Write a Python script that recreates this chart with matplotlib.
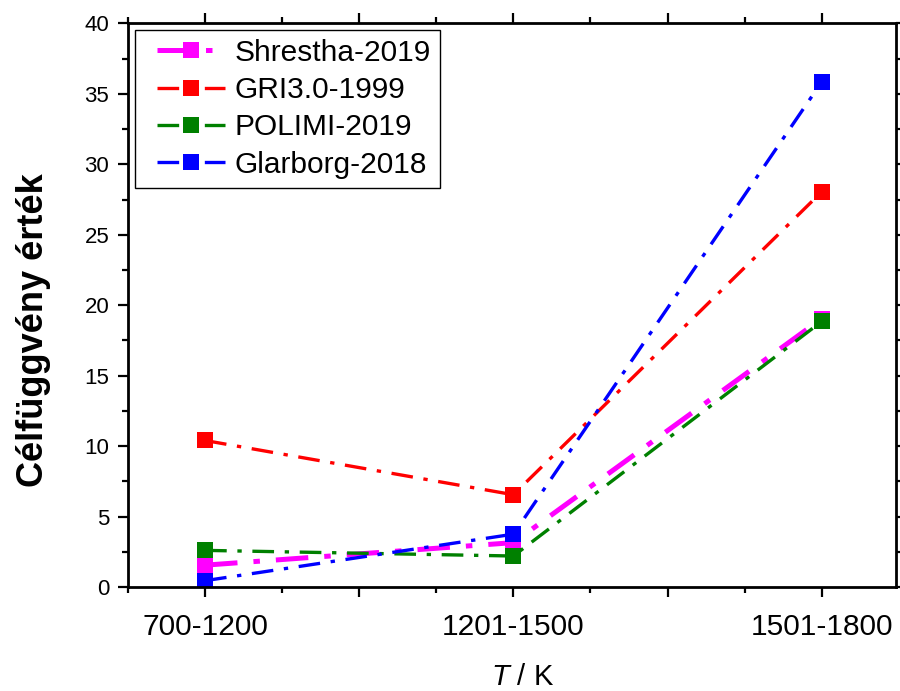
import matplotlib
matplotlib.use("Agg")
import matplotlib.pyplot as plt
from matplotlib.ticker import MultipleLocator, FuncFormatter
from matplotlib.legend_handler import HandlerLine2D

# Temperature ranges on the x axis
categories = ["700-1200", "1201-1500", "1501-1800"]

# Objective function values per mechanism
series_names = ["Shrestha-2019", "GRI3.0-1999", "POLIMI-2019", "Glarborg-2018"]
shrestha = [1.55, 3.15, 19.05]
gri = [10.4, 6.55, 28.05]
polimi = [2.6, 2.2, 18.85]
glarborg = [0.45, 3.75, 35.85]

colors = ["#FF00FF", "#FF0000", "#008000", "#0000FF"]
widths = [3.6, 2.4, 2.4, 2.4]

plt.rcParams["font.family"] = ["Liberation Sans", "DejaVu Sans"]
plt.rcParams["mathtext.fontset"] = "custom"
plt.rcParams["mathtext.it"] = "Liberation Sans:italic"
plt.rcParams["mathtext.rm"] = "Liberation Sans"

fig = plt.figure(figsize=(9.0, 6.91), dpi=100)
ax = fig.add_axes([0.1422, 0.1505, 0.8530, 0.8155])

x = [i + 1 for i in range(len(categories))]
lines = []
for name, vals, c, lw in zip(series_names, [shrestha, gri, polimi, glarborg], colors, widths):
    ln, = ax.plot(x, vals, color=c, lw=lw, dashes=(6.5, 3.2, 1.3, 3.2),
                  marker="s", markersize=12, markeredgewidth=0, label=name)
    lines.append(ln)

ax.set_xlim(0.75, 3.24)
ax.set_ylim(0, 40)

ax.xaxis.set_major_locator(MultipleLocator(0.5))
ax.xaxis.set_minor_locator(MultipleLocator(0.25))


def cat_label(v, pos):
    i = int(round(v))
    if abs(v - i) < 1e-6 and 1 <= i <= len(categories):
        return categories[i - 1]
    return ""


ax.xaxis.set_major_formatter(FuncFormatter(cat_label))
ax.yaxis.set_major_locator(MultipleLocator(5))
ax.yaxis.set_minor_locator(MultipleLocator(2.5))

for s in ax.spines.values():
    s.set_linewidth(2.0)

ax.tick_params(axis="both", which="both", direction="out", top=True, right=True, width=1.6)
ax.tick_params(axis="both", which="major", length=7.5)
ax.tick_params(axis="both", which="minor", length=4)
ax.tick_params(axis="x", which="major", labelsize=21.5, pad=11)
ax.tick_params(axis="y", which="major", labelsize=16, pad=6)

ax.set_xlabel("$T$ / K", fontsize=21)
ax.xaxis.set_label_coords(0.5145, -0.135)
ax.set_ylabel("Célfüggvény érték", fontsize=26, fontweight="bold")
ax.yaxis.set_label_coords(-0.100, 0.456)

leg = ax.legend(handles=lines, loc="upper left", bbox_to_anchor=(0.0091, 0.9885),
                borderaxespad=0, fontsize=21.5, numpoints=1, handlelength=2.7,
                handletextpad=0.33, labelspacing=0.31, borderpad=0.3,
                fancybox=False, framealpha=1,
                handler_map={ln: HandlerLine2D(xpad=0.45) for ln in lines})
leg.get_frame().set_edgecolor("black")
leg.get_frame().set_linewidth(1.0)

fig.savefig("out.png", dpi=100)
